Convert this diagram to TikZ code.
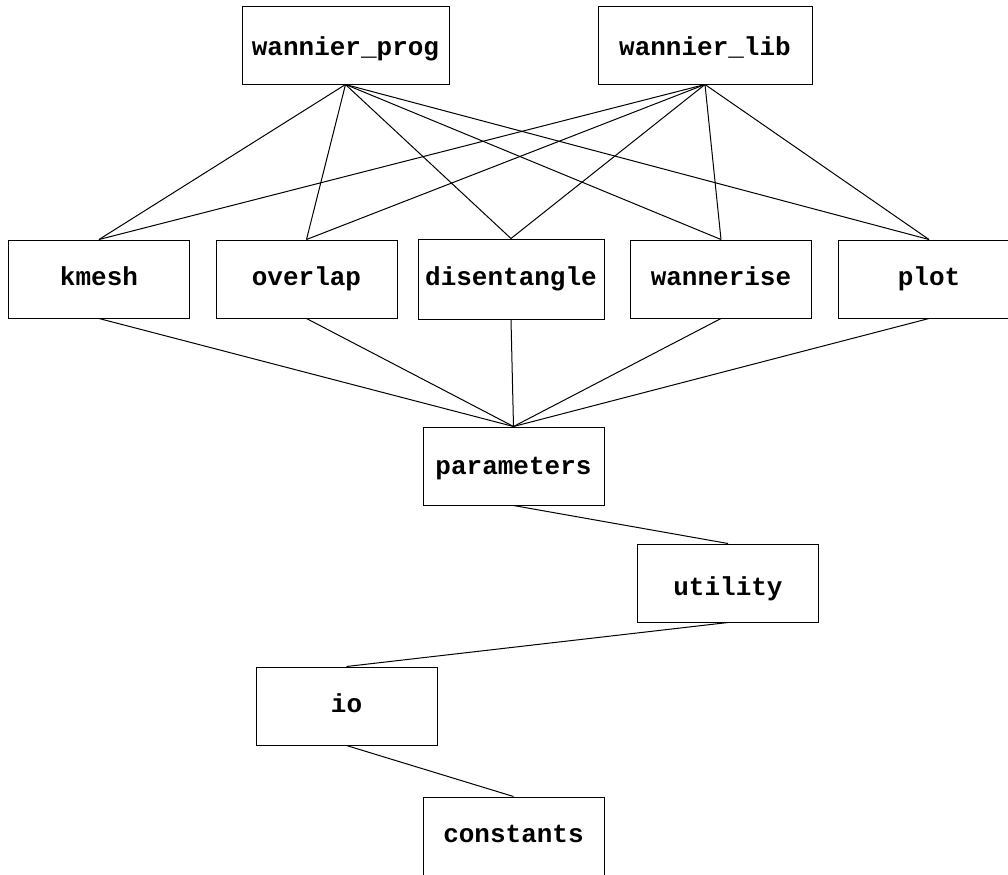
\documentclass[tikz,border=0pt]{standalone}
\usepackage{fontspec}
\setmonofont{Liberation Mono}
\usepackage{tikz}

\begin{document}
\begin{tikzpicture}[x=0.5pt,y=-0.5pt]
	\tikzset{module/.style={draw, rectangle, line width=0.5pt, minimum width=90.5pt, minimum height=39pt, inner sep=0pt, text height=8pt, text depth=2pt, font=\fontsize{13}{15}\selectfont\ttfamily\bfseries}}

	\useasboundingbox (0,0) rectangle (1008,874);

	\node[module, minimum width=103.5pt, text height=11pt, text depth=1pt] (prog) at (345.5,45) {wannier\_prog};
	\node[module, minimum width=107pt, text height=11pt, text depth=1pt] (lib) at (705,45) {wannier\_lib};

	\node[module] (kmesh) at (99,279) {kmesh};
	\node[module] (overlap) at (306.5,279) {overlap};
	\node[module, minimum width=93pt, minimum height=40pt] (disentangle) at (511,279) {disentangle};
	\node[module] (wannerise) at (721,279) {wannerise};
	\node[module] (plot) at (929,279) {plot};

	\node[module, text height=9pt, text depth=1pt] (params) at (513.5,466) {parameters};
	\node[module, text height=13pt, text depth=0.5pt] (utility) at (728,583) {utility};
	\node[module] (io) at (346.5,706) {io};
	\node[module] (constants) at (513.5,836) {constants};

	\foreach \m in {kmesh,overlap,disentangle,wannerise,plot}{
		\draw[line width=0.5pt] (prog.south) -- (\m.north);
		\draw[line width=0.5pt] (lib.south) -- (\m.north);
		\draw[line width=0.5pt] (\m.south) -- (params.north);
	}

	\draw[line width=0.5pt] (params.south) -- (utility.north);
	\draw[line width=0.5pt] (utility.south) -- (io.north);
	\draw[line width=0.5pt] (io.south) -- (constants.north);

\end{tikzpicture}
\end{document}
